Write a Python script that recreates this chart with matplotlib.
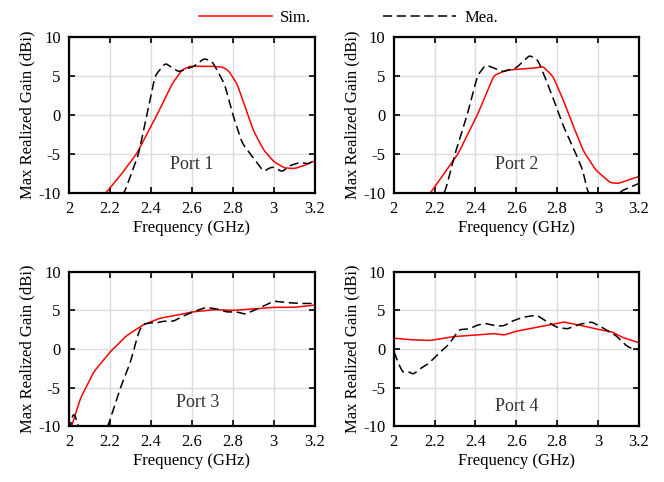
import numpy as np
import matplotlib
matplotlib.use("Agg")
import matplotlib.pyplot as plt

plt.rcParams['font.family'] = ['Liberation Serif', 'DejaVu Serif']
plt.rcParams['font.size'] = 12
plt.rcParams['axes.unicode_minus'] = False

# data
p1_sim_f = [2.0, 2.18, 2.25, 2.33, 2.43, 2.5, 2.55, 2.59, 2.65, 2.7, 2.75, 2.78, 2.82, 2.86, 2.9, 2.95, 3.0, 3.05, 3.1, 3.15, 3.2]
p1_sim_g = [-14, -10, -7.8, -5, 0, 3.8, 5.7, 6.2, 6.2, 6.2, 6.1, 5.6, 4.0, 1.0, -2.0, -4.5, -6.0, -6.8, -6.9, -6.5, -5.9]
p1_mea_f = [2.0, 2.27, 2.34, 2.38, 2.42, 2.47, 2.535, 2.61, 2.66, 2.70, 2.76, 2.80, 2.845, 2.887, 2.92, 2.95, 2.98, 3.0, 3.04, 3.08, 3.13, 3.17, 3.2]
p1_mea_g = [-16, -10, -5, 0, 5, 6.6, 5.5, 6.2, 7.2, 6.8, 3.9, 0, -3.6, -5.1, -6.2, -7.3, -6.8, -6.7, -7.3, -6.5, -6.1, -6.3, -5.7]

p2_sim_f = [2.0, 2.18, 2.315, 2.41, 2.49, 2.55, 2.6, 2.7, 2.73, 2.78, 2.83, 2.88, 2.93, 2.99, 3.06, 3.1, 3.2]
p2_sim_g = [-14, -10, -5, 0, 5, 5.7, 5.8, 6.0, 6.2, 4.9, 1.9, -1.5, -4.7, -7.1, -8.7, -8.8, -7.9]
p2_mea_f = [2.0, 2.25, 2.3, 2.36, 2.41, 2.45, 2.535, 2.6, 2.665, 2.706, 2.747, 2.795, 2.828, 2.877, 2.926, 2.95, 2.98, 3.02, 3.07, 3.12, 3.2]
p2_mea_g = [-16, -10, -5, 0, 5, 6.4, 5.5, 6.0, 7.6, 7.0, 4.4, 1.1, -1.3, -4.1, -7.1, -10, -10.3, -11, -10.8, -9.7, -8.8]

p3_sim_f = [2.0, 2.013, 2.054, 2.12, 2.2, 2.28, 2.36, 2.445, 2.53, 2.6, 2.71, 2.8, 2.9, 3.0, 3.1, 3.2]
p3_sim_g = [-11, -10, -6.5, -3.0, -0.4, 1.7, 3.1, 4.0, 4.4, 4.8, 5.1, 5.0, 5.2, 5.4, 5.4, 5.7]
p3_mea_f = [2.0, 2.02, 2.04, 2.07, 2.12, 2.19, 2.25, 2.30, 2.34, 2.36, 2.40, 2.43, 2.46, 2.51, 2.56, 2.625, 2.67, 2.72, 2.77, 2.82, 2.86, 2.92, 3.0, 3.07, 3.13, 3.2]
p3_mea_g = [-11, -8.0, -9.5, -12, -13, -10, -5.1, -1.7, 2.2, 3.2, 3.4, 3.4, 3.6, 3.6, 4.3, 5.0, 5.4, 5.2, 4.8, 4.8, 4.5, 5.2, 6.2, 6.0, 5.9, 5.9]

p4_sim_f = [2.0, 2.08, 2.18, 2.29, 2.4, 2.49, 2.54, 2.6, 2.7, 2.78, 2.83, 2.89, 2.99, 3.07, 3.12, 3.19, 3.2]
p4_sim_g = [1.4, 1.2, 1.1, 1.6, 1.8, 2.0, 1.8, 2.3, 2.8, 3.2, 3.5, 3.2, 2.6, 2.2, 1.5, 0.9, 0.8]
p4_mea_f = [2.0, 2.02, 2.045, 2.07, 2.095, 2.127, 2.17, 2.22, 2.27, 2.32, 2.37, 2.41, 2.45, 2.5, 2.54, 2.58, 2.63, 2.7, 2.74, 2.8, 2.85, 2.91, 2.97, 3.02, 3.09, 3.14, 3.17, 3.2]
p4_mea_g = [-0.2, -1.7, -3.1, -2.9, -3.3, -2.6, -1.9, -0.6, 0.6, 2.5, 2.6, 3.1, 3.3, 3.0, 3.0, 3.6, 4.1, 4.4, 3.7, 2.8, 2.6, 3.2, 3.5, 2.8, 1.7, 0.4, 0.0, -0.1]

panels = [
    (p1_sim_f, p1_sim_g, p1_mea_f, p1_mea_g, "Port 1", (2.6, -6.4)),
    (p2_sim_f, p2_sim_g, p2_mea_f, p2_mea_g, "Port 2", (2.6, -6.4)),
    (p3_sim_f, p3_sim_g, p3_mea_f, p3_mea_g, "Port 3", (2.63, -6.9)),
    (p4_sim_f, p4_sim_g, p4_mea_f, p4_mea_g, "Port 4", (2.6, -7.4)),
]

xticks = [2.0, 2.2, 2.4, 2.6, 2.8, 3.0, 3.2]
xtick_labels = ["2", "2.2", "2.4", "2.6", "2.8", "3", "3.2"]
yticks = [-10, -5, 0, 5, 10]

fig = plt.figure(figsize=(6.64, 4.82), dpi=100)
rects = [
    [0.104, 0.600, 0.370, 0.324],
    [0.593, 0.600, 0.369, 0.324],
    [0.104, 0.116, 0.370, 0.320],
    [0.593, 0.116, 0.369, 0.320],
]


def smooth(f, g):
    # linear interp + small moving average, only to draw a smooth line
    ff = np.linspace(f[0], f[-1], 400)
    gg = np.interp(ff, f, g)
    k = np.ones(7) / 7
    gp = np.pad(gg, 3, mode='edge')
    return ff, np.convolve(gp, k, mode='valid')


for rect, (sf, sg, mf, mg, name, pos) in zip(rects, panels):
    ax = fig.add_axes(rect)
    x, y = smooth(sf, sg)
    ax.plot(x, y, color='red', lw=1.1, label='Sim.')
    x, y = smooth(mf, mg)
    ax.plot(x, y, color='black', lw=1.1, dashes=(6, 3), label='Mea.')
    ax.set_xlim(2, 3.2)
    ax.set_ylim(-10, 10)
    ax.set_xticks(xticks)
    ax.set_xticklabels(xtick_labels)
    ax.set_yticks(yticks)
    ax.grid(True, color='#dcdcdc', lw=1)
    ax.set_axisbelow(True)
    ax.tick_params(direction='in', top=True, right=True, length=4, width=1.2, pad=6)
    for s in ax.spines.values():
        s.set_linewidth(1.6)
    ax.set_xlabel('Frequency (GHz)', labelpad=2)
    ax.set_ylabel('Max Realized Gain (dBi)', labelpad=2)
    ax.text(pos[0], pos[1], name, ha='center', va='center', fontsize=13, color='#333333')

handles, labels = fig.axes[0].get_legend_handles_labels()
fig.legend(handles, labels, loc='upper center', bbox_to_anchor=(0.525, 1.01), ncol=2,
           frameon=False, handlelength=4.4, columnspacing=4.3, handletextpad=0.5, fontsize=12)

fig.savefig('out.png', dpi=100)
